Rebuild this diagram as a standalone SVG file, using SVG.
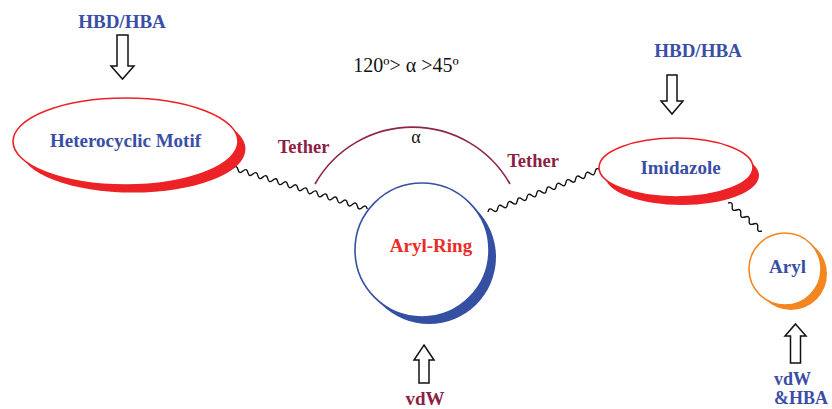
<svg xmlns="http://www.w3.org/2000/svg" width="832" height="409" viewBox="0 0 832 409">
<style>
.lbl{font-family:"Liberation Serif","Times New Roman",serif;font-weight:bold;text-anchor:middle}
.blue{fill:#3a4ea6}
.maroon{fill:#8c1f45}
.red{fill:#ec2a26}
.plain{font-family:"Liberation Serif","Times New Roman",serif;fill:#111;text-anchor:middle}
.arrow{fill:#fff;stroke:#111;stroke-width:1.5;stroke-linejoin:miter}
.wave{fill:none;stroke:#111;stroke-width:1.4}
</style>
<rect width="832" height="409" fill="#fff"/>

<g id="connectors">
  <path class="wave" transform="translate(233,168) rotate(17)" d="M0 0 q2.6 -4.5 5.2 0 t5.2 0 t5.2 0 t5.2 0 t5.2 0 t5.2 0 t5.2 0 t5.2 0 t5.2 0 t5.2 0 t5.2 0 t5.2 0 t5.2 0 t5.2 0 t5.2 0 t5.2 0 t5.2 0 t5.2 0 t5.2 0 t5.2 0 t5.2 0 t5.2 0 t5.2 0 t5.2 0 t5.2 0 t5.2 0 t5.2 0"/>
  <path class="wave" transform="translate(488,212) rotate(-20.6)" d="M0 0 q2.6 -4.5 5.2 0 t5.2 0 t5.2 0 t5.2 0 t5.2 0 t5.2 0 t5.2 0 t5.2 0 t5.2 0 t5.2 0 t5.2 0 t5.2 0 t5.2 0 t5.2 0 t5.2 0 t5.2 0 t5.2 0 t5.2 0 t5.2 0 t5.2 0 t5.2 0 t5.2 0 t5.2 0"/>
  <path class="wave" transform="translate(728,203) rotate(39.5)" d="M0 0 q2.75 -4.5 5.5 0 t5.5 0 t5.5 0 t5.5 0 t5.5 0 t5.5 0 t5.5 0 t5.5 0"/>
  <path d="M315 184 A112 112 0 0 1 510 184" fill="none" stroke="#8f2447" stroke-width="1.6"/>
</g>

<g id="heterocyclic">
  <ellipse cx="133" cy="149" rx="112.5" ry="43.5" fill="#ec2226"/>
  <ellipse cx="125.5" cy="141.5" rx="112.5" ry="43.5" fill="#fff" stroke="#ec2226" stroke-width="1.6"/>
  <text class="lbl blue" x="125.5" y="147" font-size="19">Heterocyclic Motif</text>
</g>

<g id="hbd-left">
  <text class="lbl blue" x="122" y="28" font-size="19">HBD/HBA</text>
  <polygon class="arrow" points="117,35 128,35 128,66 134,66 122.5,79 111,66 117,66"/>
</g>

<g id="angle">
  <text class="plain" x="406" y="72" font-size="20">120º&gt; α &gt;45º</text>
  <text class="plain" x="416" y="143" font-size="18">α</text>
  <text class="lbl maroon" x="303.5" y="153" font-size="18.5">Tether</text>
  <text class="lbl maroon" x="533" y="167" font-size="18.5">Tether</text>
</g>

<g id="aryl-ring">
  <circle cx="429" cy="257" r="67" fill="#3550a3"/>
  <circle cx="422" cy="250" r="67" fill="#fff" stroke="#3550a3" stroke-width="1.6"/>
  <text class="lbl red" x="431" y="252" font-size="19">Aryl-Ring</text>
</g>

<g id="vdw-bottom">
  <polygon class="arrow" points="424,345 434,360 429,360 429,383 419,383 419,360 414,360"/>
  <text class="lbl maroon" x="425" y="405" font-size="19">vdW</text>
</g>

<g id="imidazole">
  <ellipse cx="682" cy="175.5" rx="77" ry="29.5" fill="#ec2226"/>
  <ellipse cx="676" cy="167.5" rx="77" ry="29.5" fill="#fff" stroke="#ec2226" stroke-width="1.6"/>
  <text class="lbl blue" x="680.5" y="174" font-size="19">Imidazole</text>
</g>

<g id="hbd-right">
  <text class="lbl blue" x="698" y="57" font-size="19">HBD/HBA</text>
  <polygon class="arrow" points="667,75 677,75 677,101 683,101 672,114 661,101 667,101"/>
</g>

<g id="aryl">
  <circle cx="791" cy="274" r="36" fill="#f3861f"/>
  <circle cx="785" cy="269" r="36" fill="#fff" stroke="#f3861f" stroke-width="1.6"/>
  <text class="lbl blue" x="787.5" y="273" font-size="19">Aryl</text>
</g>

<g id="vdw-hba-right">
  <polygon class="arrow" points="795.5,324 806,336 800.5,336 800.5,363 790.5,363 790.5,336 785,336"/>
  <text class="lbl blue" x="774" y="385" font-size="18" style="text-anchor:start">vdW</text>
  <text class="lbl blue" x="774" y="404" font-size="18" style="text-anchor:start">&amp;HBA</text>
</g>
</svg>
